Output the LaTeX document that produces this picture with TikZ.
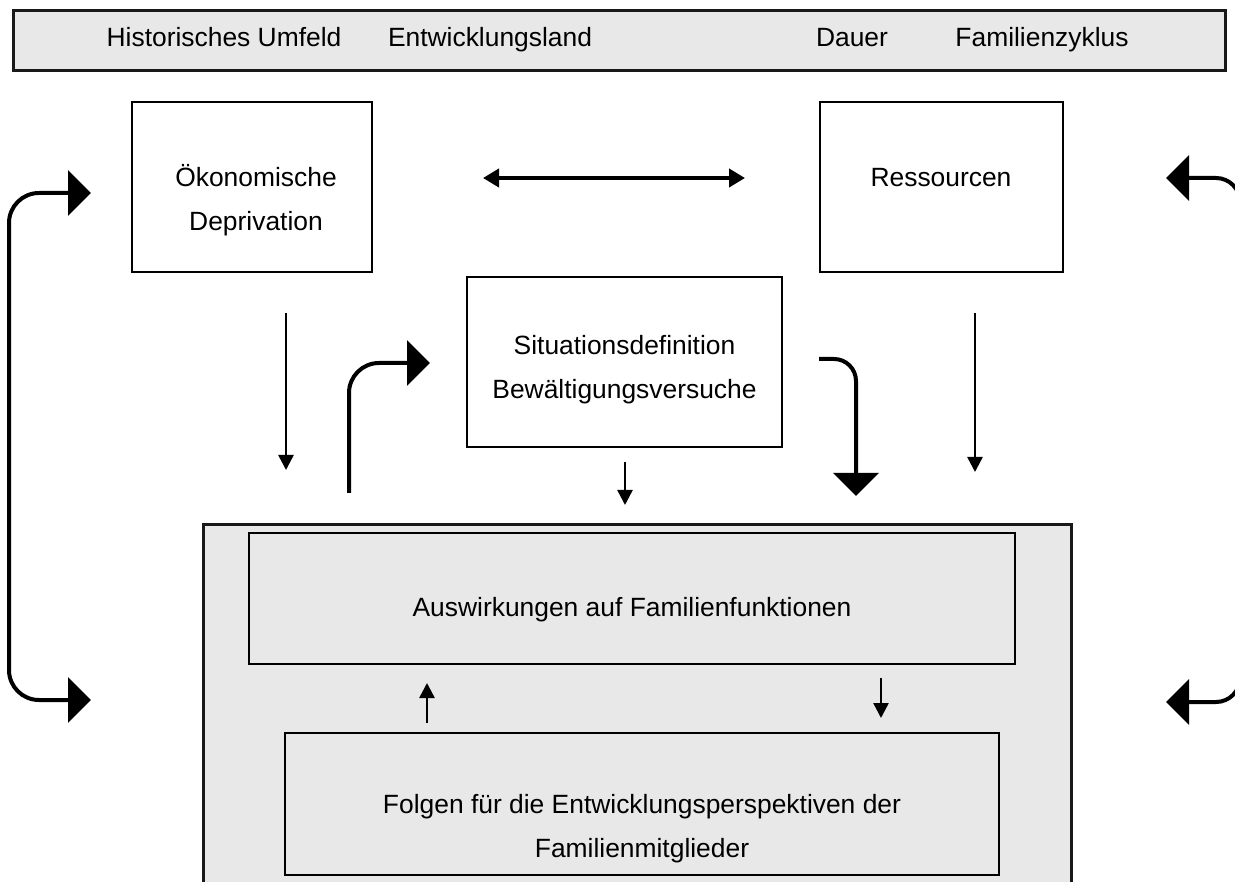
\documentclass[tikz,border=0pt]{standalone}
\usepackage{fontspec}
\setmainfont{Liberation Sans}
\usetikzlibrary{arrows.meta,positioning,calc}
\definecolor{panelgray}{HTML}{E8E8E8}

\begin{document}
\begin{tikzpicture}[x=1pt,y=-1pt,
  font=\fontsize{26.4}{44}\selectfont,
  box/.style={draw,line width=1.4pt,inner sep=0pt},
  panel/.style={draw=black!90,line width=3pt,fill=panelgray,inner sep=0pt},
  txt/.style={align=center,inner sep=0pt},
  thinarrow/.style={line width=2.5pt,-{Triangle[length=15pt,width=15pt]}},
  bigarrow/.style={line width=4pt,rounded corners=30pt,-{Triangle[length=23pt,width=45pt]}}]
\clip (0,0) rectangle (1235,882);

% top banner
\node[panel,minimum width=1212pt,minimum height=60pt] (banner) at (619,41) {};
\node[txt,anchor=base] (histo) at (224,47) {Historisches Umfeld};
\node[txt,anchor=base] (land) at (490,47) {Entwicklungsland};
\node[txt,anchor=base] (dauer) at (852,47) {Dauer};
\node[txt,anchor=base] (zyklus) at (1042,47) {Familienzyklus};

% upper boxes
\node[box,minimum width=240pt,minimum height=170pt] (oek) at (252,187) {};
\node[txt] (oektext) at (256,200) {Ökonomische\\Deprivation};
\node[box,minimum width=243pt,minimum height=170pt] (res) at (941.5,187) {};
\node[txt,anchor=base] (restext) at (941,187) {Ressourcen};
\node[box,minimum width=315pt,minimum height=170pt] (situ) at (624.5,362) {};
\node[txt] (situtext) at (624.5,370) {Situationsdefinition\\Bewältigungsversuche};

% lower panel
\node[panel,minimum width=868pt,minimum height=376pt] (family) at (637,712) {};
\node[box,fill=panelgray,minimum width=766pt,minimum height=131pt] (wirk) at (632,598.5) {};
\node[txt,anchor=base] (wirktext) at (632,616) {Auswirkungen auf Familienfunktionen};
\node[box,fill=panelgray,minimum width=714pt,minimum height=142pt] (folgen) at (642,804) {};
\node[txt] (folgentext) at (642,829) {Folgen für die Entwicklungsperspektiven der\\Familienmitglieder};

% arrow ends
\coordinate (d1a) at (286,313);  \coordinate (d1b) at (286,470);
\coordinate (d2a) at (975,313);  \coordinate (d2b) at (975,472);
\coordinate (d3a) at (625,462);  \coordinate (d3b) at (625,505);
\coordinate (upa) at (427,723);  \coordinate (upb) at (427,683);
\coordinate (dna) at (881,678);  \coordinate (dnb) at (881,718);
\coordinate (lra) at (483,178);  \coordinate (lrb) at (745,178);

\draw[thinarrow] (d1a) -- (d1b);
\draw[thinarrow] (d2a) -- (d2b);
\draw[thinarrow] (d3a) -- (d3b);
\draw[thinarrow] (upa) -- (upb);
\draw[thinarrow] (dna) -- (dnb);
\draw[line width=4pt,{Triangle[length=16pt,width=18pt]}-{Triangle[length=16pt,width=18pt]}] (lra) -- (lrb);

% bent arrows round the middle box
\coordinate (ina) at (349,493);  \coordinate (inb) at (430,363);
\coordinate (outa) at (819,359); \coordinate (outb) at (856,496);
\draw[bigarrow] (ina) |- (inb);
\draw[bigarrow,rounded corners=22pt] (outa) -| (outb);

% feedback loops at the sides
\coordinate (lefta) at (91,193);   \coordinate (leftb) at (91,700);
\coordinate (righta) at (1166,178); \coordinate (rightb) at (1166,702);
\draw[bigarrow,{Triangle[length=23pt,width=45pt]}-{Triangle[length=23pt,width=45pt]}]
  (lefta) -- (9,193) -- (9,700) -- (leftb);
\draw[bigarrow,rounded corners=24pt,{Triangle[length=23pt,width=45pt]}-{Triangle[length=23pt,width=45pt]}]
  (righta) -- (1240,178) -- (1240,702) -- (rightb);
\end{tikzpicture}
\end{document}
